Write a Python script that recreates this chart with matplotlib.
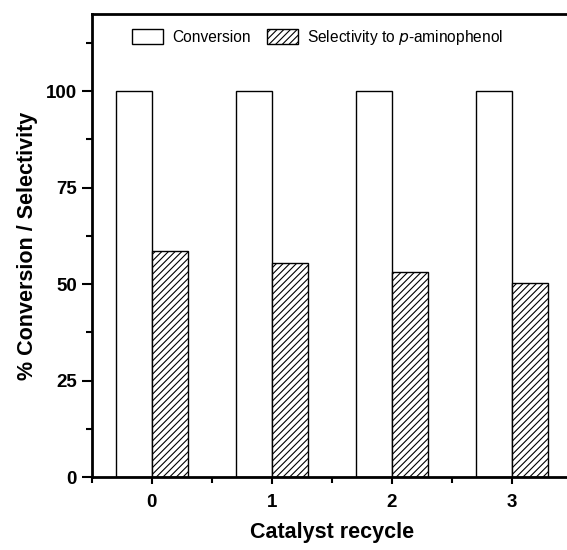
import matplotlib
matplotlib.use("Agg")
import matplotlib.pyplot as plt
from matplotlib.ticker import MultipleLocator

plt.rcParams['font.family'] = ['Liberation Sans', 'DejaVu Sans']
plt.rcParams['hatch.linewidth'] = 0.8

cycles = [0, 1, 2, 3]
conversion = [100, 100, 100, 100]
selectivity = [58.5, 55.4, 53.2, 50.4]
tick_labels = ['0', '1', '2', '3']

fig = plt.figure(figsize=(5.67, 5.5), dpi=100)
ax = fig.add_axes([0.1617, 0.1327, 0.8466, 0.8418])

w = 0.3
ax.bar([c - w / 2 for c in cycles], conversion, width=w, color='white',
       edgecolor='black', linewidth=1.0, label='Conversion')
ax.bar([c + w / 2 for c in cycles], selectivity, width=w, color='white',
       edgecolor='black', linewidth=1.0, hatch='/////',
       label='Selectivity to $\\it{p}$-aminophenol')

ax.set_xlim(-0.5, 3.5)
ax.set_ylim(0, 120)
ax.set_xticks(cycles)
ax.set_xticklabels(tick_labels)
ax.xaxis.set_minor_locator(MultipleLocator(0.5))
ax.yaxis.set_major_locator(MultipleLocator(25))
ax.yaxis.set_minor_locator(MultipleLocator(12.5))

for s in ax.spines.values():
    s.set_linewidth(2)

ax.tick_params(axis='both', which='major', direction='out', length=7, width=1.5,
               labelsize=13.5)
ax.tick_params(axis='both', which='minor', direction='out', length=4, width=1.5)
ax.tick_params(axis='x', which='major', length=5, pad=7)
for lab in ax.get_xticklabels() + ax.get_yticklabels():
    lab.set_fontweight('bold')

ax.set_xlabel('Catalyst recycle', fontsize=15.5, fontweight='bold', labelpad=8)
ax.set_ylabel('% Conversion / Selectivity', fontsize=15.5, fontweight='bold', labelpad=6)

leg = ax.legend(loc='upper left', bbox_to_anchor=(0.055, 1.0), ncol=2, frameon=False,
                fontsize=11.2, handlelength=2.0, handleheight=1.1, columnspacing=1.0,
                handletextpad=0.6)

fig.savefig('out.png', dpi=100)
